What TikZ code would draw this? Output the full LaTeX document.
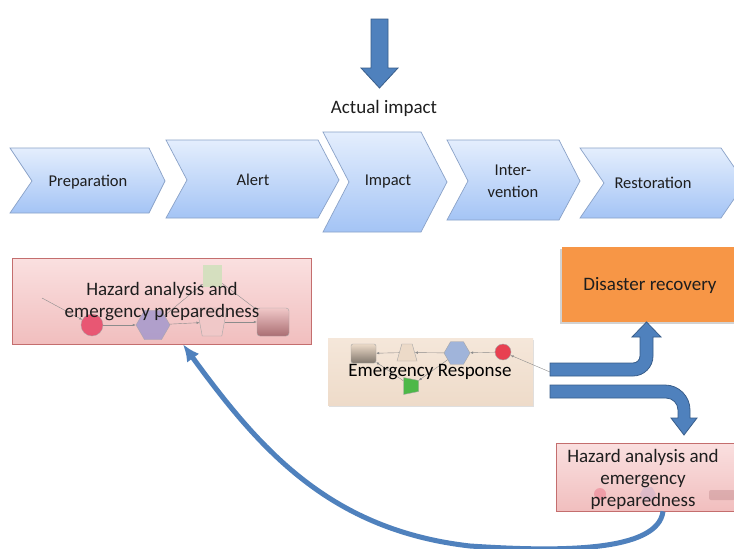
\documentclass[tikz,border=0pt]{standalone}
\usepackage{fontspec}
\setmainfont{Carlito}
\usepackage{tikz}
\usetikzlibrary{arrows.meta}
\usetikzlibrary{shapes.geometric}
\usetikzlibrary{shadows}
\definecolor{chevtop}{RGB}{228,238,253}
\definecolor{chevbot}{RGB}{164,196,245}
\definecolor{chevline}{RGB}{138,162,200}
\definecolor{pinktop}{RGB}{250,224,224}
\definecolor{pinkbot}{RGB}{241,190,190}
\definecolor{pinkline}{RGB}{196,110,110}
\definecolor{beigetop}{RGB}{245,231,218}
\definecolor{beigebot}{RGB}{238,219,201}
\definecolor{orng}{RGB}{247,150,70}
\definecolor{bluearr}{RGB}{79,129,189}
\definecolor{bluearrline}{RGB}{56,93,138}
\definecolor{txt}{RGB}{30,30,30}
\definecolor{hred}{RGB}{230,60,95}
\definecolor{hlav}{RGB}{160,150,205}
\definecolor{hpink}{RGB}{240,200,200}
\definecolor{hgreen}{RGB}{205,225,185}
\definecolor{hmauve}{RGB}{170,110,115}
\definecolor{ered}{RGB}{232,64,80}
\definecolor{eblue}{RGB}{160,180,218}
\definecolor{ebeige}{RGB}{236,218,200}
\definecolor{egreen}{RGB}{77,184,72}
\tikzstyle{chev}=[top color=chevtop, bottom color=chevbot, draw=chevline, line width=0.7pt]
\tikzstyle{chevtxt}=[font=\fontsize{16.5}{22}\selectfont, text=txt, align=center, inner sep=0pt]
\tikzstyle{bigtxt}=[font=\fontsize{19}{22}\selectfont, text=txt, align=center, inner sep=0pt]
\tikzstyle{pinkbox}=[rectangle, top color=pinktop, bottom color=pinkbot, draw=pinkline, line width=0.6pt]
\tikzstyle{beigebox}=[rectangle, top color=beigetop, bottom color=beigebot, drop shadow={opacity=0.25, shadow xshift=0.5pt, shadow yshift=-1.5pt}]
\tikzstyle{orangebox}=[rectangle, fill=orng, drop shadow={opacity=0.35, shadow xshift=-2pt, shadow yshift=-2pt}]
\tikzstyle{blockarr}=[fill=bluearr, draw=bluearrline, line width=0.8pt]
\tikzstyle{returnarc}=[draw=bluearr, line width=5pt, -{Latex[length=17pt,width=15pt]}]
\tikzstyle{mini}=[draw=black!35, line width=0.4pt, inner sep=0pt]
\tikzstyle{trap}=[draw=black!35, line width=0.4pt, trapezium, inner sep=1pt, trapezium stretches=true]
\tikzstyle{miniedge}=[-{Latex[length=3pt,width=2.5pt]}, draw=black!45, line width=0.4pt]

\begin{document}
\begin{tikzpicture}[x=1pt, y=-1pt]
	\path[fill=white, use as bounding box] (0,0) rectangle (734,549);
	% actual impact
	\draw[blockarr] (371,19) -- (388,19) -- (388,68) -- (398,68) -- (379.5,88) -- (361,68) -- (371,68) -- cycle;
	\draw (384,108) node[bigtxt] (actual) {Actual impact};
	% phases
	\path[chev] (10,148) -- (149,148) -- (165,181) -- (149,213) -- (10,213) -- (32,181) -- cycle;
	\path[chev] (166,140) -- (318,140) -- (339,180) -- (318,218) -- (166,218) -- (187,180) -- cycle;
	\path[chev] (323,132) -- (421,132) -- (447,182) -- (421,232) -- (323,232) -- (349,182) -- cycle;
	\path[chev] (447,140) -- (559,140) -- (580,181) -- (559,220) -- (447,220) -- (468,181) -- cycle;
	\path[chev] (580,148) -- (721,148) -- (745,183) -- (721,218) -- (580,218) -- (604,183) -- cycle;
	\draw (88,182) node[chevtxt] (prep) {Preparation};
	\draw (253,180) node[chevtxt] (alert) {Alert};
	\draw (388,182) node[chevtxt] (impact) {Impact};
	\draw (513,181) node[chevtxt] (interv) {Inter-\\vention};
	\draw (653,183) node[chevtxt] (resto) {Restoration};
	% hazard analysis (left)
	\draw (161.5,301) node[pinkbox, minimum width=299pt, minimum height=86pt] (hazA) {};
	\draw (42,298) coordinate (hin);
	\draw (92,325) node[mini, circle, fill=hred, opacity=0.8, minimum size=22pt] (hA1) {};
	\draw (153,325) node[mini, regular polygon, regular polygon sides=6, fill=hlav, opacity=0.8, minimum size=34pt] (hA2) {};
	\draw (212,322) node[trap, shape border rotate=180, trapezium angle=75, fill=hpink, minimum width=30pt, minimum height=28pt] (hA3) {};
	\draw (273,322) node[mini, rectangle, rounded corners=3pt, top color=hpink, bottom color=hmauve, minimum width=32pt, minimum height=28pt] (hA4) {};
	\draw (212.5,276) node[mini, rectangle, draw=none, fill=hgreen, opacity=0.8, minimum width=19pt, minimum height=22pt] (hA5) {};
	\draw[miniedge] (hin) -- (hA1);
	\draw[miniedge] (hA1) -- (hA2);
	\draw[miniedge] (hA2) -- (hA3);
	\draw[miniedge] (hA3) -- (hA4);
	\draw[miniedge] (hA2) -- (hA5);
	\draw[miniedge] (hA5) -- (hA4);
	\draw (162,302) node[bigtxt] (hAtxt) {Hazard analysis and\\emergency preparedness};
	% emergency response
	\draw (430.5,371.5) node[beigebox, minimum width=205pt, minimum height=67pt] (emer) {};
	\draw (550,372) coordinate (ein);
	\draw (503,352) node[mini, circle, fill=ered, minimum size=16pt] (eA4) {};
	\draw (457,353) node[mini, regular polygon, regular polygon sides=6, fill=eblue, minimum size=26pt] (eA3) {};
	\draw (407,352.5) node[trap, trapezium angle=65, fill=ebeige, minimum width=20pt, minimum height=17pt] (eA2) {};
	\draw (363.5,353.5) node[mini, rectangle, rounded corners=2pt, top color=ebeige, bottom color=black!45!ebeige, minimum width=25pt, minimum height=19pt] (eA1) {};
	\draw (411,386) node[trap, shape border rotate=270, trapezium angle=75, fill=egreen, minimum width=17pt, minimum height=15pt] (eA5) {};
	\draw[miniedge] (ein) -- (eA4);
	\draw[miniedge] (eA4) -- (eA3);
	\draw[miniedge] (eA3) -- (eA2);
	\draw[miniedge] (eA2) -- (eA1);
	\draw[miniedge] (eA3) -- (eA5);
	\draw[miniedge] (eA5) -- (eA1);
	\draw (430,372) node[bigtxt, text=black] (etxt) {Emergency Response};
	% outcomes
	\draw (649.5,284.5) node[orangebox, minimum width=176pt, minimum height=75pt] (drec) {};
	\draw (650,285) node[bigtxt] (dtxt) {Disaster recovery};
	\draw[blockarr] (550,363) -- (633,363) arc[start angle=90, end angle=0, radius=7] -- (640,337) -- (632,337) -- (646.5,322) -- (661,337) -- (653,337) -- (653,356) arc[start angle=0, end angle=90, radius=20] -- (550,376) -- cycle;
	\draw[blockarr] (550,385) -- (665,385) arc[start angle=-90, end angle=0, radius=25] -- (690,418) -- (697,418) -- (684,435) -- (671,418) -- (678,418) -- (678,410) arc[start angle=0, end angle=-90, radius=12] -- (550,398) -- cycle;
	% hazard analysis (right)
	\draw (646.5,477) node[pinkbox, minimum width=181pt, minimum height=68pt] (hazB) {};
	\draw (600,494) node[mini, circle, draw=none, fill=hred, opacity=0.3, minimum size=12pt] (hB1) {};
	\draw (648,494) node[mini, regular polygon, regular polygon sides=6, draw=none, fill=hlav, opacity=0.25, minimum size=16pt] (hB2) {};
	\draw (722,495) node[mini, rectangle, draw=none, rounded corners=2pt, fill=hmauve, opacity=0.3, minimum width=26pt, minimum height=10pt] (hB3) {};
	\draw (643,479) node[bigtxt] (hBtxt) {Hazard analysis and\\emergency\\preparedness};
	% back to the start
	\draw (470,546) coordinate (low);
	\draw[returnarc] ([xshift=16.5pt]hazB.south) .. controls (658,552) and (560,552) .. (low) .. controls (330,530) and (260,450) .. ([xshift=21.5pt]hazA.south);
\end{tikzpicture}
\end{document}
